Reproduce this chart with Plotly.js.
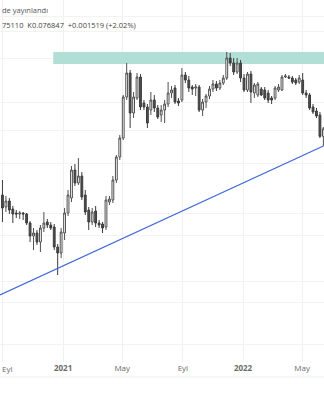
<!DOCTYPE html>
<html>
<head>
<meta charset="utf-8">
<script src="https://cdn.plot.ly/plotly-3.0.1.min.js"></script>
<style>
html,body{margin:0;padding:0;background:#fff;}
#chart{width:324px;height:400px;}
</style>
</head>
<body>
<div id="chart"></div>
<script>
// Weekly candles (Monday dates)
const dates = [
"2020-08-31","2020-09-07","2020-09-14","2020-09-21","2020-09-28","2020-10-05","2020-10-12","2020-10-19","2020-10-26","2020-11-02",
"2020-11-09","2020-11-16","2020-11-23","2020-11-30","2020-12-07","2020-12-14","2020-12-21","2020-12-28","2021-01-04","2021-01-11",
"2021-01-18","2021-01-25","2021-02-01","2021-02-08","2021-02-15","2021-02-22","2021-03-01","2021-03-08","2021-03-15","2021-03-22",
"2021-03-29","2021-04-05","2021-04-12","2021-04-19","2021-04-26","2021-05-03","2021-05-10","2021-05-17","2021-05-24","2021-05-31",
"2021-06-07","2021-06-14","2021-06-21","2021-06-28","2021-07-05","2021-07-12","2021-07-19","2021-07-26","2021-08-02","2021-08-09",
"2021-08-16","2021-08-23","2021-08-30","2021-09-06","2021-09-13","2021-09-20","2021-09-27","2021-10-04","2021-10-11","2021-10-18",
"2021-10-25","2021-11-01","2021-11-08","2021-11-15","2021-11-22","2021-11-29","2021-12-06","2021-12-13","2021-12-20","2021-12-27",
"2022-01-03","2022-01-10","2022-01-17","2022-01-24","2022-01-31","2022-02-07","2022-02-14","2022-02-21","2022-02-28","2022-03-07",
"2022-03-14","2022-03-21","2022-03-28","2022-04-04","2022-04-11","2022-04-18","2022-04-25","2022-05-02","2022-05-09","2022-05-16",
"2022-05-23","2022-05-30","2022-06-06","2022-06-13"
];
const openV = [
0.0636,0.0612,0.0624,0.0608,0.0600,0.0598,0.0600,0.0598,0.0580,0.0554,
0.0560,0.0542,0.0570,0.0582,0.0576,0.0572,0.0532,0.0520,0.0560,0.0600,
0.0630,0.0686,0.0660,0.0674,0.0636,0.0606,0.0582,0.0604,0.0580,0.0578,
0.0572,0.0622,0.0626,0.0666,0.0712,0.0750,0.0832,0.0880,0.0800,0.0830,
0.0872,0.0820,0.0812,0.0806,0.0826,0.0810,0.0796,0.0806,0.0818,0.0840,
0.0850,0.0824,0.0826,0.0876,0.0866,0.0852,0.0850,0.0852,0.0806,0.0822,
0.0834,0.0848,0.0858,0.0850,0.0860,0.0870,0.0910,0.0900,0.0882,0.0900,
0.0870,0.0846,0.0878,0.0840,0.0836,0.0848,0.0846,0.0840,0.0830,0.0830,
0.0846,0.0846,0.0872,0.0872,0.0870,0.0866,0.0862,0.0866,0.0840,0.0836,
0.0812,0.0804,0.0796,0.075328
];
const highV = [
0.0666,0.0634,0.0630,0.0614,0.0606,0.0604,0.0602,0.0600,0.0584,0.0570,
0.0566,0.0576,0.0602,0.0588,0.0582,0.0578,0.0538,0.0570,0.0610,0.0646,
0.0694,0.0698,0.0710,0.0682,0.0646,0.0612,0.0610,0.0614,0.0586,0.0582,
0.0634,0.0634,0.0674,0.0716,0.0756,0.0836,0.0900,0.0886,0.0842,0.0880,
0.0878,0.0826,0.0818,0.0842,0.0836,0.0816,0.0816,0.0826,0.0862,0.0854,
0.0856,0.0830,0.0890,0.0882,0.0874,0.0856,0.0858,0.0856,0.0828,0.0838,
0.0854,0.0866,0.0864,0.0866,0.0876,0.0922,0.0920,0.0910,0.0910,0.0906,
0.0878,0.0882,0.0884,0.0860,0.0862,0.0852,0.0852,0.0846,0.0834,0.0854,
0.0858,0.0876,0.0878,0.0876,0.0874,0.0870,0.0876,0.0880,0.0846,0.0840,
0.0818,0.0810,0.0802,0.0772
];
const lowV = [
0.0582,0.0602,0.0598,0.0580,0.0590,0.0588,0.0586,0.0576,0.0542,0.0526,
0.0536,0.0522,0.0562,0.0570,0.0566,0.0526,0.0476,0.0510,0.0546,0.0594,
0.0622,0.0654,0.0656,0.0626,0.0596,0.0566,0.0576,0.0572,0.0570,0.0560,
0.0566,0.0616,0.0620,0.0660,0.0706,0.0746,0.0826,0.0770,0.0790,0.0826,
0.0806,0.0806,0.0770,0.0796,0.0802,0.0788,0.0782,0.0780,0.0812,0.0830,
0.0818,0.0814,0.0822,0.0860,0.0842,0.0836,0.0834,0.0802,0.0794,0.0810,
0.0828,0.0842,0.0844,0.0846,0.0856,0.0866,0.0894,0.0876,0.0878,0.0862,
0.0842,0.0842,0.0820,0.0830,0.0832,0.0834,0.0826,0.0820,0.0818,0.0826,
0.0842,0.0844,0.0870,0.0868,0.0858,0.0856,0.0858,0.0836,0.0830,0.0806,
0.0798,0.0790,0.0750,0.0734
];
const closeV = [
0.0610,0.0624,0.0606,0.0598,0.0598,0.0600,0.0598,0.0580,0.0554,0.0560,
0.0542,0.0570,0.0580,0.0576,0.0570,0.0532,0.0520,0.0562,0.0600,0.0636,
0.0686,0.0660,0.0674,0.0632,0.0602,0.0582,0.0602,0.0580,0.0576,0.0570,
0.0626,0.0628,0.0666,0.0712,0.0750,0.0832,0.0880,0.0800,0.0832,0.0872,
0.0812,0.0812,0.0780,0.0826,0.0810,0.0792,0.0806,0.0818,0.0840,0.0846,
0.0822,0.0820,0.0876,0.0866,0.0850,0.0848,0.0852,0.0806,0.0822,0.0834,
0.0848,0.0858,0.0850,0.0860,0.0870,0.0910,0.0900,0.0882,0.0900,0.0870,
0.0846,0.0878,0.0842,0.0856,0.0858,0.0836,0.0830,0.0826,0.0826,0.0850,
0.0852,0.0872,0.0874,0.0870,0.0862,0.0860,0.0870,0.0840,0.0836,0.0810,
0.0802,0.0794,0.075328,0.076847
];

// Drawings
const trendX = ["2020-08-26","2022-06-13"];
const trendY = [0.0436, 0.0734];
const zoneX = ["2020-12-12","2022-08-31"];
const zoneY = [0.0898, 0.0922];

// Axis ticks (first "Eyl" label is drawn as an edge label so it stays inside the picture)
const xTickVals = ["2020-09-01","2021-01-01","2021-05-01","2021-09-01","2022-01-01","2022-05-01"];
const xTickText = ["","<b>2021</b>","May","Eyl","<b>2022</b>","May"];
const edgeTickText = "Eyl";
const yGridVals = [0.0338,0.0422,0.0464,0.0556,0.0600,0.0700,0.0766,0.0822,0.0910,0.0964,0.0994];

const headerLine1 = "de yayınlandı";
const headerLine2 = "75110  K0.076847  +0.001519 (+2.02%)";

const candles = {
  type: "candlestick",
  x: dates, open: openV, high: highV, low: lowV, close: closeV,
  increasing: {line: {color: "#505050", width: 1}, fillcolor: "#ffffff"},
  decreasing: {line: {color: "#3c3c3c", width: 1}, fillcolor: "#4f4f4f"},
  whiskerwidth: 0,
  hoverinfo: "skip",
  showlegend: false
};
const trend = {
  type: "scatter", mode: "lines",
  x: trendX, y: trendY,
  line: {color: "#4169d8", width: 1.3},
  hoverinfo: "skip", showlegend: false
};

const plotH = 362;
const layout = {
  width: 324, height: 400,
  margin: {l: 0, r: 0, t: 0, b: 38},
  paper_bgcolor: "#ffffff", plot_bgcolor: "#ffffff",
  font: {family: "Open Sans, Roboto, sans-serif", size: 8, color: "#6a6a6a"},
  showlegend: false,
  boxgap: 0.25,
  xaxis: {
    type: "date",
    range: ["2020-08-26", "2022-06-14 06:00"],
    tickmode: "array", tickvals: xTickVals, ticktext: xTickText,
    showgrid: true, gridcolor: "#f1f1f1", gridwidth: 1,
    zeroline: false, showline: false, ticks: "",
    tickfont: {size: 8, color: "#6a6a6a"},
    rangeslider: {visible: false},
    fixedrange: true
  },
  yaxis: {
    range: [0.0302, 0.1026],
    tickmode: "array", tickvals: yGridVals,
    showticklabels: false,
    showgrid: true, gridcolor: "#f3f3f3", gridwidth: 1,
    zeroline: false, showline: false, ticks: "",
    fixedrange: true
  },
  shapes: [
    {type: "rect", xref: "x", yref: "y", x0: zoneX[0], x1: zoneX[1], y0: zoneY[0], y1: zoneY[1],
     fillcolor: "#b2dfd5", line: {width: 0}, layer: "between"},
    {type: "line", xref: "paper", yref: "paper", x0: 0, x1: 1, y0: -15/plotH, y1: -15/plotH,
     line: {color: "#eeeeee", width: 1}}
  ],
  annotations: [
    {text: headerLine1, xref: "paper", yref: "paper", x: 0, y: 1 - 10/plotH,
     xanchor: "left", yanchor: "middle", showarrow: false,
     font: {size: 7.5, color: "#555555"}},
    {text: headerLine2, xref: "paper", yref: "paper", x: 0, y: 1 - 25/plotH,
     xanchor: "left", yanchor: "middle", showarrow: false,
     font: {size: 7.5, color: "#444444"}},
    {text: edgeTickText, xref: "paper", yref: "paper", x: 0, y: -6/plotH,
     xanchor: "left", yanchor: "middle", showarrow: false,
     font: {size: 8, color: "#6a6a6a"}}
  ]
};

Plotly.newPlot("chart", [candles, trend], layout, {displayModeBar: false, staticPlot: true});
</script>
</body>
</html>
